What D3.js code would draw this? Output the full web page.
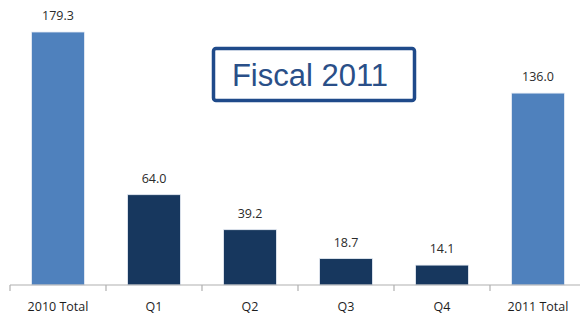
<!DOCTYPE html>
<html>
<head>
<meta charset="utf-8">
<script src="https://cdn.jsdelivr.net/npm/d3@7"></script>
<style>
  html, body { margin: 0; padding: 0; background: #ffffff; }
  svg { display: block; }
</style>
</head>
<body>
<svg id="chart" width="580" height="322"></svg>
<script>
// Fiscal 2011 quarterly values versus annual totals
const categories = ["2010 Total", "Q1", "Q2", "Q3", "Q4", "2011 Total"];
const values = [179.3, 64.0, 39.2, 18.7, 14.1, 136.0];
const kinds = ["total", "quarter", "quarter", "quarter", "quarter", "total"];
const valueLabels = ["179.3", "64.0", "39.2", "18.7", "14.1", "136.0"];
const titleText = "Fiscal 2011";

const colors = { total: "#4f81bd", quarter: "#17375e" };

const svg = d3.select("#chart");
const baseY = 285;

const x = d3.scaleBand()
  .domain(categories)
  .range([10, 586])
  .paddingInner(0.45)
  .paddingOuter(0.225);

const y = d3.scaleLinear()
  .domain([0, 179.3])
  .range([baseY, 32]);

// bars
svg.append("g")
  .selectAll("rect")
  .data(categories)
  .join("rect")
  .attr("x", d => x(d))
  .attr("y", (d, i) => y(values[i]))
  .attr("width", x.bandwidth())
  .attr("height", (d, i) => baseY - y(values[i]))
  .attr("fill", (d, i) => colors[kinds[i]])
  .attr("stroke", "#e6ecf4")
  .attr("stroke-width", 0.8);

// value labels
svg.append("g")
  .selectAll("text")
  .data(categories)
  .join("text")
  .attr("x", d => x(d) + x.bandwidth() / 2)
  .attr("y", (d, i) => y(values[i]) - 12)
  .attr("text-anchor", "middle")
  .attr("font-family", "'Open Sans', 'DejaVu Sans', sans-serif")
  .attr("font-size", 12.5)
  .attr("fill", "#2b2b2b")
  .text((d, i) => valueLabels[i]);

// category axis line
const axisG = svg.append("g").attr("transform", `translate(0,${baseY})`);
axisG.append("line")
  .attr("x1", 10).attr("x2", 580)
  .attr("y1", 0).attr("y2", 0)
  .attr("stroke", "#b0b0b0").attr("stroke-width", 1.2);

// tick marks at band boundaries
const boundaries = categories.map(c => x(c) - x.step() * x.paddingInner() / 2)
  .concat([x(categories[categories.length - 1]) + x.bandwidth() + x.step() * x.paddingInner() / 2]);
axisG.selectAll("line.tick")
  .data(boundaries)
  .join("line")
  .attr("class", "tick")
  .attr("x1", d => d).attr("x2", d => d)
  .attr("y1", 0).attr("y2", 6)
  .attr("stroke", "#b0b0b0").attr("stroke-width", 1.2);

axisG.selectAll("text.cat")
  .data(categories)
  .join("text")
  .attr("class", "cat")
  .attr("x", d => x(d) + x.bandwidth() / 2)
  .attr("y", 26)
  .attr("text-anchor", "middle")
  .attr("font-family", "'Open Sans', 'DejaVu Sans', sans-serif")
  .attr("font-size", 12.5)
  .attr("fill", "#1e1e1e")
  .text(d => d);

// title box
const titleG = svg.append("g");
titleG.append("rect")
  .attr("x", 213.5).attr("y", 48.5)
  .attr("width", 201).attr("height", 52)
  .attr("rx", 2.5)
  .attr("fill", "#ffffff")
  .attr("stroke", "#1f4a8a")
  .attr("stroke-width", 3.5);
titleG.append("text")
  .attr("x", 310).attr("y", 86)
  .attr("text-anchor", "middle")
  .attr("font-family", "'Liberation Sans', Arial, sans-serif")
  .attr("font-size", 31)
  .attr("fill", "#2a4f88")
  .text(titleText);
</script>
</body>
</html>
